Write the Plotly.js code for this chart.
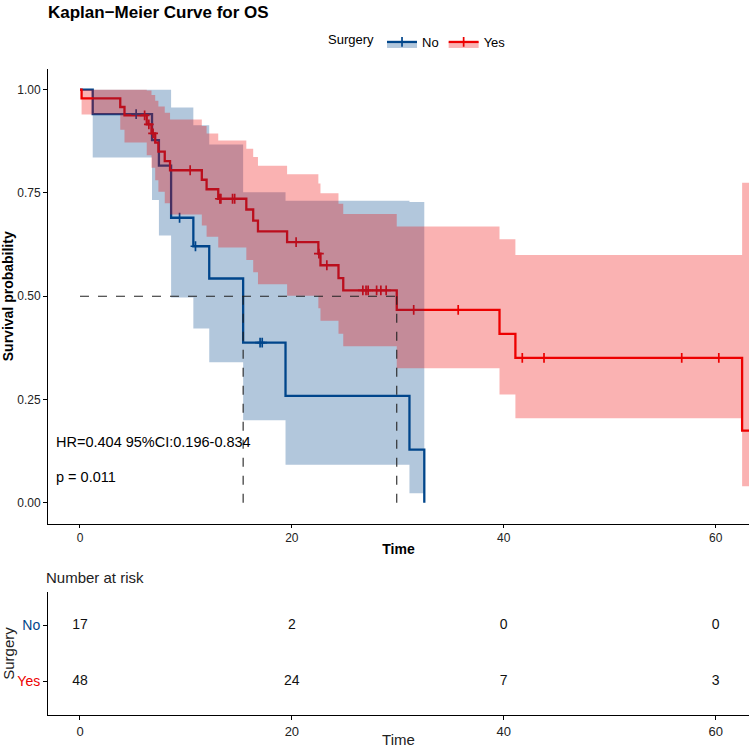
<!DOCTYPE html>
<html><head><meta charset="utf-8">
<script src="https://cdn.plot.ly/plotly-3.0.1.min.js"></script>
<style>html,body{margin:0;padding:0;background:#fff}#chart{width:750px;height:748px}</style>
</head><body><div id="chart"></div>
<script>
// Kaplan-Meier estimates for overall survival by surgery group:
// step times, survival probability and 95% confidence limits.
const noTime   = [0, 1.2, 6.8, 7.45, 8.6, 10.7, 12.2, 15.4, 19.4, 31.1, 32.5];
const noSurv   = [1, 0.941, 0.878, 0.816, 0.690, 0.621, 0.543, 0.388, 0.259, 0.129, 0];
const noLower  = [1, 0.836, 0.733, 0.647, 0.497, 0.422, 0.340, 0.200, 0.092, 0.023, null];
const noUpper  = [1, 1, 1, 1, 0.957, 0.914, 0.867, 0.752, 0.731, 0.728, null];
const noCensor = [5.3, 9.4, 10.9, 17.0, 17.2];

const yesTime  = [0, 0.15, 3.8, 4.2, 6.3, 6.75, 7.1, 7.4, 8.0, 8.5, 11.5, 11.95, 13.05, 15.7, 16.35, 16.8, 19.55, 22.5, 22.7, 24.4, 24.85, 29.9, 39.6, 41.1, 62.5];
const yesSurv  = [1, 0.979, 0.958, 0.938, 0.916, 0.894, 0.872, 0.850, 0.827, 0.805, 0.782, 0.759, 0.736, 0.710, 0.683, 0.657, 0.631, 0.603, 0.575, 0.544, 0.514, 0.467, 0.409, 0.351, 0.175];
const yesLower = [1, 0.940, 0.903, 0.872, 0.841, 0.811, 0.781, 0.753, 0.725, 0.698, 0.671, 0.644, 0.618, 0.588, 0.558, 0.529, 0.501, 0.471, 0.441, 0.409, 0.379, 0.326, 0.262, 0.205, 0.040];
const yesUpper = [1, 1, 1, 1, 0.998, 0.987, 0.973, 0.959, 0.944, 0.928, 0.912, 0.894, 0.877, 0.857, 0.837, 0.816, 0.795, 0.773, 0.749, 0.724, 0.699, 0.669, 0.638, 0.600, 0.775];
const yesCensor = [6.1, 6.5, 6.9, 10.4, 13.2, 13.3, 14.4, 14.6, 20.4, 22.55, 23.3, 26.7, 27.0, 27.2, 28.0, 28.4, 28.9, 31.5, 35.7, 41.75, 43.8, 56.8, 60.3];
const yesLastFollowUp = 63.6;

// median survival times (dashed reference lines)
const noMedian = 15.4;
const yesMedian = 29.9;

// number at risk table
const riskTimes = [0, 20, 40, 60];
const riskNo  = [17, 2, 0, 0];
const riskYes = [48, 24, 7, 3];

const groups = ['No', 'Yes'];
const hrText = 'HR=0.404 95%CI:0.196-0.834';
const pText = 'p = 0.011';

const BLUE = '#00468B', RED = '#ED0000';
const BLUE_FILL = 'rgba(0,70,139,0.3)', RED_FILL = 'rgba(237,0,0,0.3)';

function stepAt(times, surv, t) {
  let v = surv[0];
  for (let i = 0; i < times.length; i++) { if (times[i] <= t) v = surv[i]; }
  return v;
}

// band arrays: keep steps with defined limits and close the last one at endT
function band(times, lim, endT) {
  const x = [], y = [];
  for (let i = 0; i < times.length; i++) {
    if (lim[i] == null) break;
    x.push(times[i]); y.push(lim[i]);
  }
  x.push(endT); y.push(y[y.length - 1]);
  return {x, y};
}

const noEnd = noTime[noTime.length - 1];
const traces = [];
const censorMarker = c => ({symbol: 'cross-thin', size: 7, line: {color: c, width: 1.7}});

// survival curves
traces.push({x: noTime, y: noSurv, type: 'scatter', mode: 'lines', line: {shape: 'hv', color: BLUE, width: 2.3}, showlegend: false, hoverinfo: 'skip'});
traces.push({x: yesTime.concat([yesLastFollowUp]), y: yesSurv.concat([yesSurv[yesSurv.length - 1]]), type: 'scatter', mode: 'lines', line: {shape: 'hv', color: RED, width: 2.3}, showlegend: false, hoverinfo: 'skip'});

// censoring marks
traces.push({x: noCensor, y: noCensor.map(t => stepAt(noTime, noSurv, t)), type: 'scatter', mode: 'markers', marker: censorMarker(BLUE), showlegend: false, hoverinfo: 'skip'});
traces.push({x: yesCensor, y: yesCensor.map(t => stepAt(yesTime, yesSurv, t)), type: 'scatter', mode: 'markers', marker: censorMarker(RED), showlegend: false, hoverinfo: 'skip'});

// confidence bands
const nL = band(noTime, noLower, noEnd), nU = band(noTime, noUpper, noEnd);
const yL = band(yesTime, yesLower, yesLastFollowUp), yU = band(yesTime, yesUpper, yesLastFollowUp);
const noLine = {shape: 'hv', width: 0, color: 'rgba(0,0,0,0)'};
traces.push({x: nL.x, y: nL.y, type: 'scatter', mode: 'lines', line: noLine, showlegend: false, hoverinfo: 'skip'});
traces.push({x: nU.x, y: nU.y, type: 'scatter', mode: 'lines', fill: 'tonexty', fillcolor: BLUE_FILL, line: noLine, showlegend: false, hoverinfo: 'skip'});
traces.push({x: yL.x, y: yL.y, type: 'scatter', mode: 'lines', line: noLine, showlegend: false, hoverinfo: 'skip'});
traces.push({x: yU.x, y: yU.y, type: 'scatter', mode: 'lines', fill: 'tonexty', fillcolor: RED_FILL, line: noLine, showlegend: false, hoverinfo: 'skip'});

// median survival reference lines
const dash = {color: '#222', width: 1.1, dash: 'dash'};
traces.push({x: [0, yesMedian], y: [0.5, 0.5], type: 'scatter', mode: 'lines', line: dash, showlegend: false, hoverinfo: 'skip'});
traces.push({x: [noMedian, noMedian], y: [0, 0.5], type: 'scatter', mode: 'lines', line: dash, showlegend: false, hoverinfo: 'skip'});
traces.push({x: [yesMedian, yesMedian], y: [0, 0.5], type: 'scatter', mode: 'lines', line: dash, showlegend: false, hoverinfo: 'skip'});

// legend entries
[[groups[0], BLUE, BLUE_FILL], [groups[1], RED, RED_FILL]].forEach(([name, c, f]) => {
  traces.push({x: [null], y: [null], name: name, type: 'scatter', mode: 'lines+markers', fill: 'toself', fillcolor: f,
    line: {color: c, width: 2.3}, marker: censorMarker(c), hoverinfo: 'skip'});
});

// number at risk table
traces.push({x: riskTimes, y: riskTimes.map(() => 1), text: riskNo.map(String), type: 'scatter', mode: 'text', textfont: {size: 14, color: '#111'}, xaxis: 'x2', yaxis: 'y2', showlegend: false, hoverinfo: 'skip'});
traces.push({x: riskTimes, y: riskTimes.map(() => 0), text: riskYes.map(String), type: 'scatter', mode: 'text', textfont: {size: 14, color: '#111'}, xaxis: 'x2', yaxis: 'y2', showlegend: false, hoverinfo: 'skip'});

const W = 750, H = 748;
const xDom = [48 / W, 749 / W];
const xRange = [-3.02, 63.15];
const axisBase = {showline: true, linecolor: '#000', linewidth: 1, ticks: 'outside', ticklen: 4, tickcolor: '#000', tickwidth: 1,
  showgrid: false, zeroline: false, tickfont: {size: 12, color: '#222'}, fixedrange: true};

const layout = {
  width: W, height: H,
  margin: {l: 0, r: 0, t: 0, b: 0},
  paper_bgcolor: '#fff', plot_bgcolor: '#fff',
  font: {family: 'Liberation Sans, Arial, sans-serif', color: '#000'},
  title: {text: '<b>Kaplan\u2212Meier Curve for OS</b>', x: 48 / W, xanchor: 'left', xref: 'paper', y: 1 - 12 / H, yanchor: 'middle', yref: 'paper', font: {size: 17, color: '#000'}},
  showlegend: true,
  legend: {orientation: 'h', traceorder: 'normal', x: 326 / W, xanchor: 'left', y: 1 - 42 / H, yanchor: 'middle', font: {size: 13, color: '#000'},
    title: {text: 'Surgery', font: {size: 13, color: '#000'}}, itemwidth: 30, bgcolor: 'rgba(0,0,0,0)', tracegroupgap: 0},
  xaxis: Object.assign({}, axisBase, {domain: xDom, range: xRange, anchor: 'y', tickvals: riskTimes, ticklen: 3,
    title: {text: '<b>Time</b>', font: {size: 14, color: '#000'}, standoff: 0}}),
  yaxis: Object.assign({}, axisBase, {domain: [1 - 523.5 / H, 1 - 69 / H], range: [-0.05, 1.05], anchor: 'x',
    tickvals: [0, 0.25, 0.5, 0.75, 1], ticktext: ['0.00', '0.25', '0.50', '0.75', '1.00'],
    title: {text: '<b>Survival probability</b>', font: {size: 14, color: '#000'}, standoff: 6}}),
  xaxis2: Object.assign({}, axisBase, {domain: xDom, range: xRange, anchor: 'y2', tickvals: riskTimes,
    tickfont: {size: 13, color: '#222'},
    title: {text: 'Time', font: {size: 15, color: '#222'}, standoff: 2}}),
  yaxis2: Object.assign({}, axisBase, {domain: [1 - 715 / H, 1 - 592 / H], range: [-0.6, 1.6], anchor: 'x2',
    tickvals: [0, 1], ticktext: ['<span style="color:' + RED + '">' + groups[1] + '</span>', '<span style="color:' + BLUE + '">' + groups[0] + '</span>'],
    tickfont: {size: 14},
    title: {text: 'Surgery', font: {size: 15, color: '#222'}, standoff: 2}}),
  annotations: [
    {text: hrText, xref: 'x', yref: 'y', x: -2.5, y: 0.148, xanchor: 'left', yanchor: 'middle', showarrow: false, font: {size: 14.5, color: '#000'}},
    {text: pText, xref: 'x', yref: 'y', x: -2.5, y: 0.063, xanchor: 'left', yanchor: 'middle', showarrow: false, font: {size: 14.5, color: '#000'}},
    {text: 'Number at risk', xref: 'paper', yref: 'paper', x: 44 / W, y: 1 - 577 / H, xanchor: 'left', yanchor: 'middle', showarrow: false, font: {size: 15, color: '#222'}}
  ]
};

Plotly.newPlot('chart', traces, layout, {displayModeBar: false, staticPlot: true});
</script>
</body></html>
